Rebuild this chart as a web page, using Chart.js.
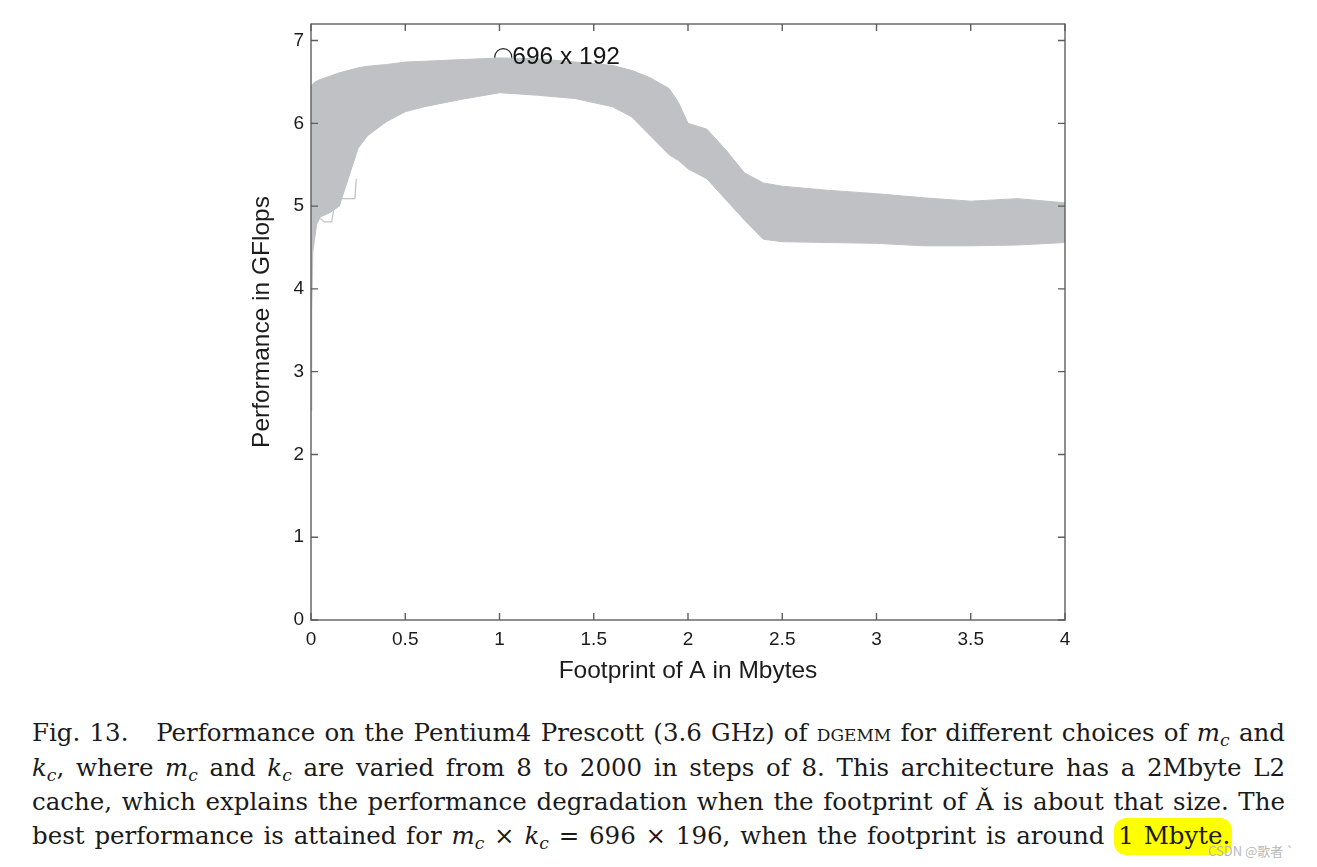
<!DOCTYPE html>
<html>
<head>
<meta charset="utf-8">
<script src="https://cdn.jsdelivr.net/npm/chart.js@4"></script>
<style>
  body { margin: 0; background: #fff; width: 1317px; height: 867px; overflow: hidden; position: relative; }
  #wrap { position: absolute; left: 0; top: 0; width: 1317px; height: 700px; }
  .cap { position: absolute; left: 32px; width: 1253px; font-family: "DejaVu Serif"; font-size: 24.5px; color: #1a1a1a; line-height: 30px; white-space: nowrap; }
  .j { text-align: justify; text-align-last: justify; }
  .cap i { font-style: italic; }
  .cap sub { font-size: 0.7em; vertical-align: -0.3em; line-height: 0; font-style: italic; }
  .sc { font-variant: small-caps; }
  .hl { background: #ffff00; border-radius: 12px; padding: 3px 2px 5px 4px; }
  #wm { position: absolute; left: 1208px; top: 841px; font: 13px "Noto Sans CJK SC", "Noto Sans"; color: #b8b8b8; }
</style>
</head>
<body>
<div id="wrap"><canvas id="perfChart" width="1317" height="700"></canvas></div>

<div class="cap j" style="top:718px">Fig. 13.&nbsp;&nbsp; Performance on the Pentium4 Prescott (3.6 GHz) of <span class="sc">dgemm</span> for different choices of <i>m</i><sub>c</sub> and</div>
<div class="cap j" style="top:753px"><i>k</i><sub>c</sub>, where <i>m</i><sub>c</sub> and <i>k</i><sub>c</sub> are varied from 8 to 2000 in steps of 8. This architecture has a 2Mbyte L2</div>
<div class="cap j" style="top:787px">cache, which explains the performance degradation when the footprint of Ǎ is about that size. The</div>
<div class="cap" style="top:821px; word-spacing:2px">best performance is attained for <i>m</i><sub>c</sub> × <i>k</i><sub>c</sub> = 696 × 196, when the footprint is around <span class="hl">1 Mbyte.</span></div>
<div id="wm">CSDN @歌者 `</div>

<script>
// footprint of A (Mbytes) vs performance (GFlops)
// top edge of the bundle of curves
const upperFp   = [0, 0.02, 0.05, 0.1, 0.15, 0.2, 0.25, 0.3, 0.4, 0.5, 0.6, 0.8, 1.0, 1.2, 1.4, 1.6, 1.7, 1.8, 1.9, 1.95, 2.0, 2.1, 2.2, 2.3, 2.4, 2.5, 2.75, 3.0, 3.25, 3.5, 3.75, 4.0];
const upperPerf = [6.45, 6.50, 6.53, 6.57, 6.61, 6.64, 6.67, 6.69, 6.71, 6.74, 6.75, 6.77, 6.79, 6.78, 6.74, 6.70, 6.64, 6.55, 6.42, 6.25, 6.00, 5.93, 5.68, 5.40, 5.28, 5.24, 5.19, 5.15, 5.10, 5.06, 5.09, 5.04];
// bottom edge of the bundle
const lowerFp   = [0, 0.004, 0.01, 0.03, 0.05, 0.1, 0.15, 0.2, 0.25, 0.3, 0.4, 0.5, 0.6, 0.8, 1.0, 1.2, 1.4, 1.6, 1.7, 1.8, 1.9, 1.95, 2.0, 2.1, 2.2, 2.3, 2.4, 2.5, 2.75, 3.0, 3.25, 3.5, 3.75, 4.0];
const lowerPerf = [2.53, 3.75, 4.45, 4.78, 4.87, 4.92, 5.00, 5.35, 5.70, 5.85, 6.02, 6.14, 6.20, 6.29, 6.37, 6.34, 6.30, 6.20, 6.08, 5.85, 5.62, 5.55, 5.45, 5.33, 5.08, 4.83, 4.60, 4.57, 4.56, 4.55, 4.52, 4.52, 4.53, 4.56];
// short stray curves near the origin
const strayFp   = [0.136, 0.233, 0.24];
const strayPerf = [5.09, 5.09, 5.33];
const stray2Fp   = [0.05, 0.07, 0.11, 0.12];
const stray2Perf = [4.85, 4.81, 4.81, 4.95];
// best choice
const bestFp = [1.02];
const bestPerf = [6.80];
const bestLabel = '696 x 192';

const xTicks = [0, 0.5, 1, 1.5, 2, 2.5, 3, 3.5, 4];
const yTicks = [0, 1, 2, 3, 4, 5, 6, 7];

const pts = (xs, ys) => xs.map((v, i) => ({ x: v, y: ys[i] }));
const grey = 'rgb(192,193,196)';

// inward ticks on all four sides plus the box, and the label of the marked point
const framePlugin = {
    id: 'frame',
    afterDatasetsDraw(chart) {
        const ctx = chart.ctx;
        const a = chart.chartArea;
        const x = chart.scales.x, y = chart.scales.y;
        ctx.save();
        ctx.strokeStyle = '#5e5e5e';
        ctx.lineWidth = 1.4;
        ctx.strokeRect(a.left, a.top, a.right - a.left, a.bottom - a.top);
        ctx.beginPath();
        xTicks.forEach(v => {
            const px = x.getPixelForValue(v);
            ctx.moveTo(px, a.bottom); ctx.lineTo(px, a.bottom - 7);
            ctx.moveTo(px, a.top); ctx.lineTo(px, a.top + 7);
        });
        yTicks.forEach(v => {
            const py = y.getPixelForValue(v);
            ctx.moveTo(a.left, py); ctx.lineTo(a.left + 7, py);
            ctx.moveTo(a.right, py); ctx.lineTo(a.right - 7, py);
        });
        ctx.stroke();
        const p = chart.getDatasetMeta(4).data[0];
        ctx.font = '24.5px "Liberation Sans"';
        ctx.fillStyle = '#151515';
        ctx.textBaseline = 'middle';
        ctx.fillText(bestLabel, p.x + 9, p.y);
        ctx.restore();
    }
};

const ctx = document.getElementById('perfChart').getContext('2d');
new Chart(ctx, {
    type: 'line',
    data: {
        datasets: [
            { data: pts(upperFp, upperPerf), borderColor: grey, borderWidth: 1, backgroundColor: grey, fill: '+1', pointRadius: 0 },
            { data: pts(lowerFp, lowerPerf), borderColor: grey, borderWidth: 1, fill: false, pointRadius: 0 },
            { data: pts(strayFp, strayPerf), borderColor: grey, borderWidth: 1.2, fill: false, pointRadius: 0 },
            { data: pts(stray2Fp, stray2Perf), borderColor: grey, borderWidth: 1.2, fill: false, pointRadius: 0 },
            { data: pts(bestFp, bestPerf), showLine: false, pointRadius: 8.5, pointBorderColor: '#222', pointBorderWidth: 1.2, pointBackgroundColor: 'rgba(0,0,0,0)' }
        ]
    },
    options: {
        responsive: false,
        animation: false,
        events: [],
        layout: { padding: { left: 248, right: 252, top: 24, bottom: 14 } },
        plugins: { legend: { display: false }, tooltip: { enabled: false } },
        elements: { line: { tension: 0 } },
        scales: {
            x: {
                type: 'linear',
                min: 0, max: 4,
                afterBuildTicks: s => { s.ticks = xTicks.map(v => ({ value: v })); },
                afterFit: s => { s.height = 66; },
                grid: { display: false, drawTicks: false },
                border: { display: false },
                ticks: { padding: 8, color: '#1c1c1c', font: { family: 'Liberation Sans', size: 19 }, maxRotation: 0, callback: v => String(v) },
                title: { display: true, text: 'Footprint of A in Mbytes', color: '#1c1c1c', padding: 0, font: { family: 'Liberation Sans', size: 24.5 } }
            },
            y: {
                min: 0, max: 7.2,
                afterBuildTicks: s => { s.ticks = yTicks.map(v => ({ value: v })); },
                afterFit: s => { s.width = 63; },
                grid: { display: false, drawTicks: false },
                border: { display: false },
                ticks: { padding: 7, color: '#1c1c1c', font: { family: 'Liberation Sans', size: 19 }, callback: v => String(v) },
                title: { display: true, text: 'Performance in GFlops', color: '#1c1c1c', padding: 0, font: { family: 'Liberation Sans', size: 24.5 } }
            }
        }
    },
    plugins: [framePlugin]
});
</script>
</body>
</html>
